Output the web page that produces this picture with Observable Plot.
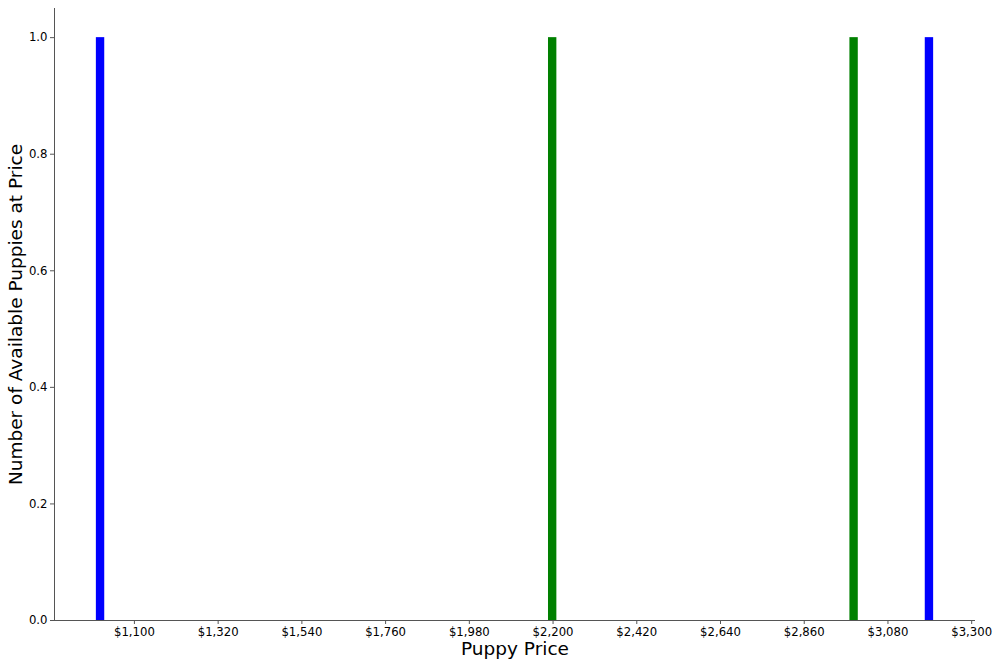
<!DOCTYPE html>
<html>
<head>
<meta charset="utf-8">
<script src="https://cdn.jsdelivr.net/npm/d3@7"></script>
<script src="https://cdn.jsdelivr.net/npm/@observablehq/plot@0.6"></script>
<style>
  html, body { margin: 0; padding: 0; background: #fff; }
  #chart { width: 1000px; height: 666px; }
</style>
</head>
<body>
<div id="chart"></div>
<script>
// Data: puppy prices for two groups
const bluePrices = [1010, 3190];
const greenPrices = [2200, 3000];
const binStart = 1000, binEnd = 3200, binStep = 22;
const xTicks = [1100, 1320, 1540, 1760, 1980, 2200, 2420, 2640, 2860, 3080, 3300];
const yTicks = [0, 0.2, 0.4, 0.6, 0.8, 1.0];
const xDomain = [890, 3310];
const yDomain = [0, 1.05];

const thresholds = d3.range(0, 101).map(i => binStart + i * binStep);
const toRows = arr => arr.map(p => ({price: p}));

const chart = Plot.plot({
  width: 1000,
  height: 666,
  marginLeft: 54,
  marginRight: 25,
  marginTop: 8,
  marginBottom: 46,
  style: {fontFamily: "DejaVu Sans", fontSize: "12px", color: "#000", background: "#fff"},
  x: {domain: xDomain},
  y: {domain: yDomain},
  marks: [
    Plot.rectY(toRows(bluePrices), Plot.binX({y: "count"}, {x: "price", thresholds, fill: "#0000ff", inset: 0})),
    Plot.rectY(toRows(greenPrices), Plot.binX({y: "count"}, {x: "price", thresholds, fill: "#008000", inset: 0})),
    Plot.ruleY([0], {stroke: "#555"}),
    Plot.ruleX([xDomain[0]], {stroke: "#555"}),
    Plot.axisX({ticks: xTicks, tickFormat: d3.format("$,"), tickSize: 4, tickPadding: 3, label: null, stroke: "#555", fill: "#000", fontSize: 11.7}),
    Plot.axisY({ticks: yTicks, tickFormat: d3.format(".1f"), tickSize: 4, tickPadding: 3, label: null, stroke: "#555", fill: "#000", fontSize: 11.7}),
    Plot.text(["Puppy Price"], {frameAnchor: "bottom", dy: 28.5, textAnchor: "middle", lineAnchor: "middle", fontSize: 18.5, fill: "#000"}),
    Plot.text(["Number of Available Puppies at Price"], {frameAnchor: "left", dx: -38, rotate: -90, textAnchor: "middle", lineAnchor: "middle", fontSize: 18.5, fill: "#000"})
  ]
});
document.getElementById("chart").appendChild(chart);
</script>
</body>
</html>
